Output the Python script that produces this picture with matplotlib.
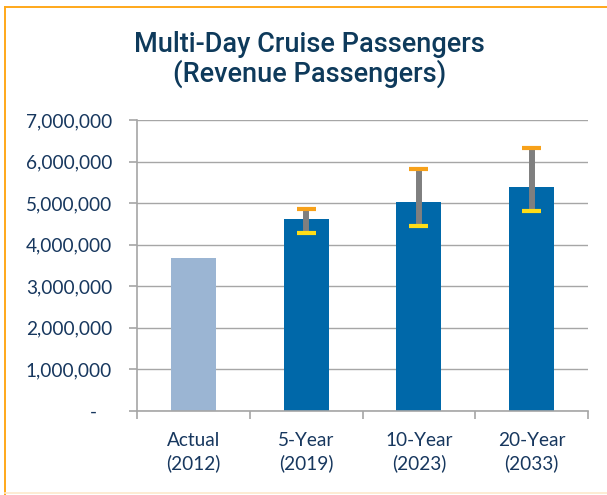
import matplotlib
matplotlib.use('agg')
import matplotlib.pyplot as plt
from matplotlib.lines import Line2D

# values
categories = ["Actual\n(2012)", "5-Year\n(2019)", "10-Year\n(2023)", "20-Year\n(2033)"]
passengers = [3690000, 4610000, 5030000, 5380000]
rangeLow = [None, 4270000, 4440000, 4800000]
rangeHigh = [None, 4870000, 5820000, 6320000]
yTicks = [0, 1000000, 2000000, 3000000, 4000000, 5000000, 6000000, 7000000]
yTickLabels = ["-   ", "1,000,000", "2,000,000", "3,000,000", "4,000,000",
               "5,000,000", "6,000,000", "7,000,000"]

textColor = '#17375e'
gridColor = '#a6a6a6'
barColors = ['#9bb5d3', '#0068a9', '#0068a9', '#0068a9']

plt.rcParams['font.family'] = ['Lato', 'DejaVu Sans']

fig = plt.figure(figsize=(6.07, 4.95), dpi=100)
ax = fig.add_axes([137/607, 1 - 411/495, (588 - 137)/607, (411 - 120)/495])

xPos = list(range(len(categories)))
ax.bar(xPos, passengers, width=0.4, color=barColors, zorder=2)

# range markers: grey stem, orange cap on top, yellow cap below
for i in xPos:
    if rangeLow[i] is None:
        continue
    ax.vlines(i, rangeLow[i], rangeHigh[i], color='#7f7f7f', linewidth=4.3, zorder=3)
    ax.hlines(rangeHigh[i], i - 0.085, i + 0.085, color='#f7a11a', linewidth=3, zorder=4)
    ax.hlines(rangeLow[i], i - 0.085, i + 0.085, color='#ffdd17', linewidth=3, zorder=4)

ax.set_xlim(-0.5, len(categories) - 0.5)
ax.set_ylim(0, 7000000)
ax.set_yticks(yTicks)
ax.set_yticklabels(yTickLabels)
ax.yaxis.grid(True, color=gridColor, linewidth=1.0, zorder=0)
ax.set_axisbelow(True)

ax.set_xticks(xPos)
ax.set_xticklabels(categories, linespacing=1.35)
ax.set_xticks([x - 0.5 for x in range(len(categories) + 1)], minor=True)
ax.tick_params(axis='x', which='major', length=0, pad=15, labelsize=13.7, labelcolor=textColor)
ax.tick_params(axis='x', which='minor', length=6, width=1.2, color=gridColor)
ax.tick_params(axis='y', length=6, width=1.2, color=gridColor, pad=12, labelsize=13.7, labelcolor=textColor)

for side in ['top', 'right']:
    ax.spines[side].set_visible(False)
for side in ['left', 'bottom']:
    ax.spines[side].set_color(gridColor)
    ax.spines[side].set_linewidth(1.2)

titleFont = ['Roboto', 'Liberation Sans', 'DejaVu Sans']
fig.text(0.51, 1 - 45/495, "Multi-Day Cruise Passengers", ha='center', va='center',
         fontsize=19.5, fontweight='medium', color='#0e3a5b', family=titleFont)
fig.text(0.51, 1 - 74/495, "(Revenue Passengers)", ha='center', va='center',
         fontsize=19.5, fontweight='medium', color='#0e3a5b', family=titleFont)

# orange frame round the chart
fig.add_artist(Line2D([4.5/607, 4.5/607], [0, 1 - 6.5/495], color='#ffa81a', linewidth=1.4))
fig.add_artist(Line2D([4.5/607, 1], [1 - 6.5/495, 1 - 6.5/495], color='#ffa81a', linewidth=1.4))
fig.add_artist(Line2D([4.5/607, 1], [1 - 492.5/495, 1 - 492.5/495], color='#fde9cc', linewidth=1.2))

fig.savefig('out.png', dpi=100)
